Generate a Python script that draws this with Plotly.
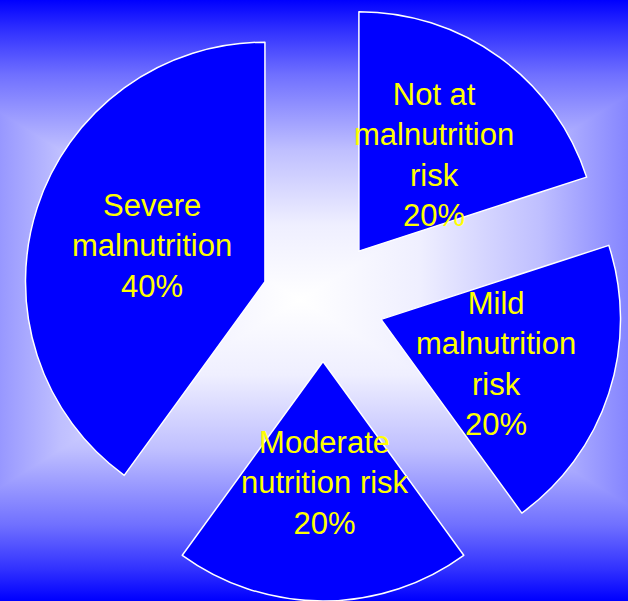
import base64
import plotly.graph_objects as go

# ---- data ----
labels = ["Not at malnutrition risk", "Mild malnutrition risk",
          "Moderate nutrition risk", "Severe malnutrition"]
label_lines = ["Not at<br>malnutrition<br>risk", "Mild<br>malnutrition<br>risk",
               "Moderate<br>nutrition risk", "Severe<br>malnutrition"]
values = [20, 20, 20, 40]

W, H = 628, 601

# ---- background: rectangular "from centre" gradient, white -> blue ----
cx, cy, A, B = 300, 300, 480, 300
stops = [(0.0, 1.0), (0.25, 0.9375), (0.5, 0.75), (0.75, 0.4375), (0.9, 0.19), (1.0, 0.0)]


def stop_xml(s):
    out = []
    for off, w in s:
        v = round(255 * w)
        out.append(f'<stop offset="{off}" stop-color="rgb({v},{v},255)"/>')
    return "".join(out)


st = stop_xml(stops)
svg = f'''<svg xmlns="http://www.w3.org/2000/svg" width="{W}" height="{H}" viewBox="0 0 {W} {H}" preserveAspectRatio="none">
<defs>
<linearGradient id="gl" gradientUnits="userSpaceOnUse" x1="{cx}" y1="0" x2="{cx-A}" y2="0">{st}</linearGradient>
<linearGradient id="gr" gradientUnits="userSpaceOnUse" x1="{cx}" y1="0" x2="{cx+A}" y2="0">{st}</linearGradient>
<linearGradient id="gt" gradientUnits="userSpaceOnUse" x1="0" y1="{cy}" x2="0" y2="{cy-B}">{st}</linearGradient>
<linearGradient id="gb" gradientUnits="userSpaceOnUse" x1="0" y1="{cy}" x2="0" y2="{cy+B}">{st}</linearGradient>
</defs>
<rect x="{cx-A}" y="{cy-B-2}" width="{A+1}" height="{2*B+4}" fill="url(#gl)"/>
<rect x="{cx-1}" y="{cy-B-2}" width="{A+1}" height="{2*B+4}" fill="url(#gr)"/>
<polygon points="{cx},{cy} {cx-A},{cy-B} {cx-A},{cy-B-5} {cx+A},{cy-B-5} {cx+A},{cy-B}" fill="url(#gt)"/>
<polygon points="{cx},{cy} {cx-A},{cy+B} {cx-A},{cy+B+5} {cx+A},{cy+B+5} {cx+A},{cy+B}" fill="url(#gb)"/>
</svg>'''
src = "data:image/svg+xml;base64," + base64.b64encode(svg.encode()).decode()

total = sum(values)
texts = [f"{l}<br>{v / total * 100:.0f}%" for l, v in zip(label_lines, values)]

fig = go.Figure(go.Pie(
    labels=labels,
    values=values,
    sort=False,
    direction="clockwise",
    rotation=0,
    pull=[0.255] * len(values),
    marker=dict(colors=["#0000FF"] * len(values), line=dict(color="white", width=1.5)),
    textinfo="none",
    hoverinfo="label+percent",
    showlegend=False,
    domain=dict(x=[0.0287, 1], y=[0, 1]),
))

# label centres (pixels)
label_pos = [(434, 155), (496, 364), (325, 483), (152, 246)]
for t, (px, py) in zip(texts, label_pos):
    fig.add_annotation(
        x=px / W, y=1 - py / H, xref="paper", yref="paper",
        text=t, showarrow=False, xanchor="center", yanchor="middle",
        font=dict(family="Liberation Sans, Arial, sans-serif", size=31, color="#FFFF00"),
    )

fig.add_layout_image(dict(
    source=src, xref="paper", yref="paper", x=0, y=1, sizex=1, sizey=1,
    sizing="stretch", layer="below", xanchor="left", yanchor="top",
))

fig.update_layout(
    width=W, height=H,
    margin=dict(l=0, r=0, t=0, b=0),
    paper_bgcolor="#8080FF",
    plot_bgcolor="rgba(0,0,0,0)",
)

fig.write_html("out.html", config={"displayModeBar": False},
               post_script="document.body.style.margin='0';")
